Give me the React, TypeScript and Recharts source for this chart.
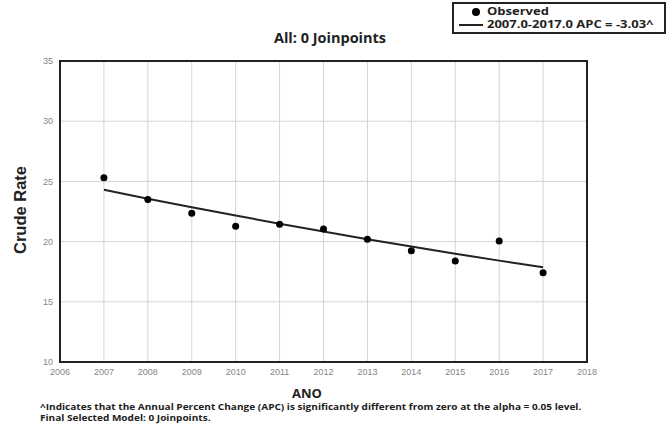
import {
  ComposedChart,
  Line,
  Scatter,
  XAxis,
  YAxis,
  CartesianGrid,
  ReferenceArea,
} from 'recharts';

const years = [2007, 2008, 2009, 2010, 2011, 2012, 2013, 2014, 2015, 2016, 2017];
const observed = [25.3, 23.5, 22.35, 21.27, 21.44, 21.05, 20.19, 19.25, 18.39, 20.05, 17.42];
const modeled = [24.3, 23.56, 22.85, 22.16, 21.49, 20.84, 20.2, 19.59, 19.0, 18.42, 17.87];
const xTicks = [2006, 2007, 2008, 2009, 2010, 2011, 2012, 2013, 2014, 2015, 2016, 2017, 2018];
const yTicks = [10, 15, 20, 25, 30, 35];

const title = 'All: 0 Joinpoints';
const footnote1 =
  '^Indicates that the Annual Percent Change (APC) is significantly different from zero at the alpha = 0.05 level.';
const footnote2 = 'Final Selected Model: 0 Joinpoints.';

const data = years.map((y, i) => ({ year: y, observed: observed[i], modeled: modeled[i] }));

const boldFont = '"Open Sans", "DejaVu Sans", sans-serif';
const tickStyle = { fontSize: 9, fill: '#858585', fontFamily: '"Liberation Sans Narrow", "Liberation Sans", sans-serif' };

export default function App() {
  return (
    <div style={{ position: 'absolute', left: 0, top: 0, width: 671, height: 437, background: '#fff' }}>
      <ComposedChart
        width={671}
        height={437}
        data={data}
        margin={{ top: 61, right: 84, bottom: 55, left: 0 }}
      >
        <CartesianGrid stroke="#d4d4d4" strokeWidth={1} />
        <XAxis
          dataKey="year"
          type="number"
          domain={[2006, 2018]}
          ticks={xTicks}
          height={20}
          tick={tickStyle}
          tickLine={false}
          axisLine={false}
          tickMargin={1}
        />
        <YAxis
          type="number"
          domain={[10, 35]}
          ticks={yTicks}
          width={60}
          tick={tickStyle}
          tickLine={false}
          axisLine={false}
          tickMargin={1}
        />
        <ReferenceArea
          x1={2006}
          x2={2018}
          y1={10}
          y2={35}
          fill="none"
          stroke="#222"
          strokeWidth={2}
        />
        <Line
          dataKey="modeled"
          stroke="#222"
          strokeWidth={2}
          dot={false}
          type="linear"
          isAnimationActive={false}
        />
        <Scatter
          dataKey="observed"
          fill="#000"
          shape={(p: any) => <circle cx={p.cx} cy={p.cy} r={3.5} fill="#000" />}
          isAnimationActive={false}
        />
      </ComposedChart>

      <div
        style={{
          position: 'absolute',
          left: 230,
          width: 200,
          top: 28,
          textAlign: 'center',
          fontFamily: boldFont,
          fontWeight: 700,
          fontSize: 14.5,
          color: '#222',
        }}
      >
        {title}
      </div>

      <div
        style={{
          position: 'absolute',
          left: 452,
          top: 2,
          width: 210,
          height: 28,
          border: '2px solid #222',
          fontFamily: boldFont,
          fontWeight: 700,
          fontSize: 10,
          color: '#222',
          boxSizing: 'content-box',
        }}
      >
        <div style={{ position: 'absolute', left: 18, top: 4, width: 8, height: 8, borderRadius: 4, background: '#000' }} />
        <div style={{ position: 'absolute', left: 33, top: 1, lineHeight: '12px', transformOrigin: 'left center', transform: 'scaleX(1.3)', whiteSpace: 'nowrap' }}>Observed</div>
        <div style={{ position: 'absolute', left: 5, top: 20, width: 24, height: 1.5, background: '#222' }} />
        <div style={{ position: 'absolute', left: 33, top: 14, lineHeight: '12px', transformOrigin: 'left center', transform: 'scaleX(1.3)', whiteSpace: 'nowrap' }}>2007.0-2017.0 APC = -3.03^</div>
      </div>

      <div
        style={{
          position: 'absolute',
          left: 20,
          top: 210,
          transform: 'translate(-50%, -50%) rotate(-90deg)',
          whiteSpace: 'nowrap',
          fontFamily: '"Liberation Sans", Arial, sans-serif',
          fontWeight: 700,
          fontSize: 16.5,
          color: '#222',
        }}
      >
        Crude Rate
      </div>

      <div
        style={{
          position: 'absolute',
          left: 257,
          width: 100,
          top: 386,
          lineHeight: '14px',
          textAlign: 'center',
          fontFamily: boldFont,
          fontWeight: 700,
          fontSize: 13,
          color: '#222',
        }}
      >
        ANO
      </div>

      <div
        style={{
          position: 'absolute',
          left: 40,
          top: 402,
          fontFamily: boldFont,
          fontWeight: 700,
          fontSize: 8.6,
          lineHeight: '11px',
          color: '#222',
          whiteSpace: 'nowrap',
          transformOrigin: 'left top',
          transform: 'scaleX(1.17)',
        }}
      >
        <div>{footnote1}</div>
        <div>{footnote2}</div>
      </div>
    </div>
  );
}
